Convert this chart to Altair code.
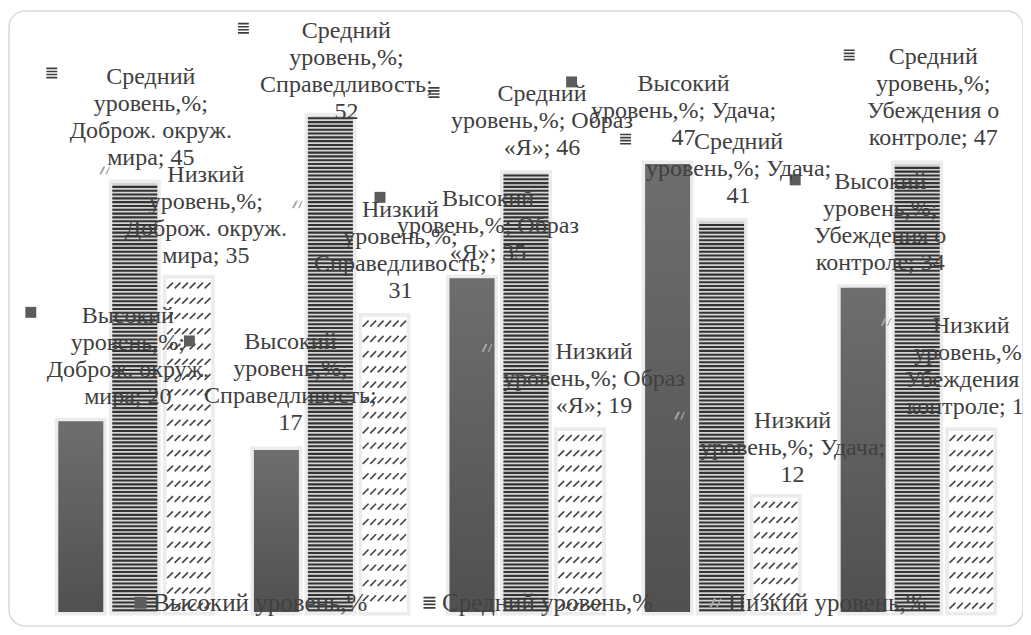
import altair as alt
import pandas as pd

# ---------------- data ----------------
categories = ["Доброж. окруж. мира", "Справедливость", "Образ «Я»", "Удача", "Убеждения о контроле"]
series = ["Высокий уровень,%", "Средний уровень,%", "Низкий уровень,%"]
high = [20, 17, 35, 47, 34]
mid = [45, 52, 46, 41, 47]
low = [35, 31, 19, 12, 19]
y_ticks = [0, 10, 20, 30, 40, 50, 60]

FONT = "Liberation Serif"
TXT = "#404040"


def text_width(s):
    w = 0.0
    for ch in s:
        if ch in ",.;: ":
            w += 0.5
        elif ch == "%":
            w += 1.6
        elif ch.isupper():
            w += 1.3
        else:
            w += 1.0
    return w


def wrap(text, maxw=16.0):
    lines, cur = [], ""
    for w in text.split(" "):
        cand = (cur + " " + w) if cur else w
        if cur and text_width(cand) > maxw:
            lines.append(cur)
            cur = w
        else:
            cur = cand
    lines.append(cur)
    return "\n".join(lines)


rows = []
for i, c in enumerate(categories):
    for j, (s, vals) in enumerate(zip(series, [high, mid, low])):
        rows.append({"cat": c, "ser": s, "val": vals[i], "ci": i, "si": j,
                     "label": wrap(f"{s}; {c}; {vals[i]}")})
df = pd.DataFrame(rows)

# stripes for the middle series (derived from the values)
stripe_rows = []
for c, v in zip(categories, mid):
    k = 0
    while k * 0.4 + 0.3 <= v:
        stripe_rows.append({"cat": c, "ser": series[1], "y0": k * 0.4 + 0.08, "y1": k * 0.4 + 0.3})
        k += 1
stripes = pd.DataFrame(stripe_rows)

# hatch rows for the low series (derived from the values)
hatch_rows = []
for c, v in zip(categories, low):
    y = v - 0.75
    while y > 0.4:
        hatch_rows.append({"cat": c, "ser": series[2], "hy": y})
        y -= 1.6
hatch = pd.DataFrame(hatch_rows)

# label placement styling: (category idx, series idx) -> text dx, dy, key dx, key dy (pixels)
label_style = {
    (0, 0): (-7, -117, -104, -109),
    (0, 1): (16, -118, -83, -110),
    (0, 2): (71, -115, -30, -108),
    (1, 0): (-40, -120, -141, -109),
    (1, 1): (16, -97, -87, -88),
    (1, 2): (70, -118, -33, -112),
    (2, 0): (-38, -91, -146, -81),
    (2, 1): (16, -91, -92, -81),
    (2, 2): (68, -91, -39, -83),
    (3, 0): (-38, -92, -150, -82),
    (3, 1): (17, -91, -96, -82),
    (3, 2): (71, -89, -42, -82),
    (4, 0): (-37, -118, -122, -108),
    (4, 1): (16, -119, -68, -109),
    (4, 2): (54, -117, -31, -109),
}

# ---------------- encodings ----------------
X = alt.X("cat:N", sort=categories, axis=None,
          scale=alt.Scale(domain=categories, paddingInner=0.2178, paddingOuter=0.1089))
XO = alt.XOffset("ser:N", sort=series,
                 scale=alt.Scale(domain=series, paddingInner=0.167, paddingOuter=0))
Y = alt.Y("val:Q", scale=alt.Scale(domain=[0, 60]),
          axis=alt.Axis(values=y_ticks, grid=True, labels=False, ticks=False, domain=False,
                        title=None, gridColor="#d9d9d9", gridWidth=1.3))

base = alt.Chart(df)

frame = alt.Chart(pd.DataFrame({"a": [0]})).mark_rect(
    fill="white", stroke="#d9d9d9", strokeWidth=1.5, cornerRadius=16
).encode(x=alt.value(-28), x2=alt.value(986), y=alt.value(-29), y2=alt.value(586))

shadow = base.mark_bar(color="#dcdcdc", stroke="#dcdcdc", strokeWidth=7, strokeOpacity=0.55).encode(
    x=X, xOffset=XO, y=Y)

grad = alt.LinearGradient(gradient="linear",
                          stops=[alt.GradientStop(color="#6e6e6e", offset=0),
                                 alt.GradientStop(color="#505050", offset=1)],
                          x1=0, x2=0, y1=0, y2=1)
bars_high = base.transform_filter(alt.datum.si == 0).mark_bar(color=grad).encode(x=X, xOffset=XO, y=Y)
bars_mid = base.transform_filter(alt.datum.si == 1).mark_bar(color="#d4d4d4").encode(x=X, xOffset=XO, y=Y)
bars_low = base.transform_filter(alt.datum.si == 2).mark_bar(color="#ffffff").encode(x=X, xOffset=XO, y=Y)

stripe_layer = alt.Chart(stripes).mark_bar(color="#333333").encode(
    x=X, xOffset=XO, y=alt.Y("y0:Q"), y2="y1:Q")

hatch_layers = []
for col in [-18.75, -11.25, -3.75, 3.75, 11.25, 18.75]:
    hatch_layers.append(
        alt.Chart(hatch).mark_point(shape="M-1,1L1,-1", filled=False, color="#4a4a4a",
                                    strokeWidth=1.7, size=34, opacity=1, xOffset=54 + col)
        .encode(x=X, y=alt.Y("hy:Q"))
    )

shape_paths = [
    "M-1,-1H1V1H-1Z",
    "M-1,-1H1V-0.7H-1Z M-1,-0.43H1V-0.13H-1Z M-1,0.13H1V0.43H-1Z M-1,0.7H1V1H-1Z",
    "M-1,0.7L-0.3,-0.7H0.1L-0.6,0.7Z M0.1,0.7L0.8,-0.7H1L0.4,0.7Z",
]
COLOR = alt.Color("ser:N", sort=series,
                  scale=alt.Scale(domain=series, range=["#5c5c5c", "#3e3e3e", "#a8a8a8"]),
                  legend=alt.Legend(orient="none", legendX=91, legendY=550, direction="horizontal",
                                    title=None, labelFont=FONT, labelFontSize=25, labelColor=TXT,
                                    symbolSize=144, symbolStrokeWidth=0, labelOffset=0,
                                    columnPadding=49, padding=0, labelLimit=400))
SHAPE = alt.Shape("ser:N", sort=series,
                  scale=alt.Scale(domain=series, range=shape_paths), legend=None)

key_layers, text_layers = [], []
for (ci, si), (dx, dy, kx, ky) in label_style.items():
    sub = base.transform_filter((alt.datum.ci == ci) & (alt.datum.si == si))
    key_layers.append(
        sub.mark_point(filled=True, size=120, opacity=1, xOffset=kx, yOffset=ky)
        .encode(x=X, y=Y, color=COLOR, shape=SHAPE)
    )
    text_layers.append(
        sub.mark_text(align="center", baseline="top", dx=dx, dy=dy, lineBreak="\n",
                      lineHeight=27, font=FONT, fontSize=24, color=TXT)
        .encode(x=X, y=Y, text="label:N")
    )

chart = alt.layer(
    frame, shadow, bars_high, bars_mid, stripe_layer, bars_low, *hatch_layers,
    *key_layers, *text_layers
).properties(
    width=978, height=572,
    autosize=alt.AutoSizeParams(type="none"),
    padding={"left": 29, "top": 32, "right": 8, "bottom": 15},
    background="white",
).configure_view(stroke=None)

chart.save("out.html", embed_options={"renderer": "svg", "actions": False})
